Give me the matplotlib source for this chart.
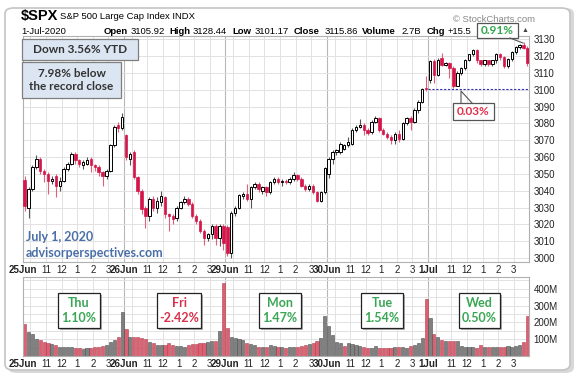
import numpy as np
import matplotlib.pyplot as plt
from matplotlib.patches import FancyBboxPatch, Rectangle

# 15-minute bars, 25 Jun - 1 Jul 2020, 26 bars per session
days = ['25Jun', '26Jun', '29Jun', '30Jun', '1Jul']
day_boxes = [('Thu', '1.10%'), ('Fri', '-2.42%'), ('Mon', '1.47%'), ('Tue', '1.54%'), ('Wed', '0.50%')]
hour_labels = ['11', '12', '1', '2', '3']

opens = [
    3046.6, 3030, 3041, 3054, 3059, 3052, 3050, 3046, 3049, 3043, 3046, 3053, 3056, 3062, 3058, 3055, 3056, 3059, 3055, 3054, 3051, 3049, 3052, 3067, 3079, 3077,
    3073.2, 3059, 3063, 3048, 3040, 3030, 3025, 3035, 3030, 3033, 3036, 3026, 3025, 3024, 3030, 3033, 3035, 3032, 3025, 3022, 3016, 3012, 3014, 3019, 3012, 3019,
    3018.6, 3003, 3027, 3030, 3037, 3038, 3035, 3042, 3044, 3040, 3042, 3039, 3045, 3047, 3045, 3046, 3045, 3047, 3049.5, 3047, 3043, 3041, 3043, 3039, 3034, 3039,
    3050.2, 3059, 3063, 3063, 3065, 3067, 3068, 3076, 3078, 3079, 3076, 3075, 3081, 3083, 3076, 3074, 3072, 3070, 3074, 3070.5, 3080.5, 3083, 3081, 3088, 3093, 3100.5,
    3105.92, 3117, 3109, 3119, 3115, 3116, 3113, 3102.5, 3110, 3113, 3118, 3121, 3123.5, 3117.5, 3115.5, 3117.5, 3115.5, 3117.5, 3121.5, 3119.5, 3114, 3118.5, 3122.5, 3125.5, 3126.5, 3125,
]
highs = [
    3049, 3042, 3055, 3061, 3060, 3053, 3051, 3049, 3050, 3048, 3054, 3057, 3063, 3063, 3059, 3058, 3060, 3060, 3056, 3055, 3052, 3053, 3068, 3079, 3081, 3086.25,
    3073.7, 3063, 3064, 3049, 3041, 3031, 3036, 3037, 3036, 3040, 3037, 3027, 3026, 3031, 3034, 3037, 3036, 3033, 3026, 3023, 3017, 3015, 3020, 3020, 3020, 3020,
    3019.5, 3028, 3031, 3038, 3039, 3044, 3043, 3045, 3045, 3043, 3043, 3046, 3048, 3048, 3047, 3047, 3048, 3051, 3050, 3048, 3044, 3044, 3044, 3040, 3040, 3053.9,
    3060, 3064, 3065, 3069, 3068, 3072, 3077, 3079, 3082.5, 3080, 3077, 3082, 3084.7, 3084, 3077, 3075, 3073, 3075, 3076, 3081, 3084, 3084.5, 3089, 3094, 3101, 3108,
    3118, 3118.5, 3119, 3122, 3116.5, 3116.5, 3114, 3111, 3113.5, 3118.5, 3121.5, 3124, 3124, 3118, 3118, 3118, 3118, 3122, 3122, 3120, 3119, 3123, 3126, 3127, 3128.44, 3126,
]
lows = [
    3028, 3024, 3040, 3053, 3050, 3045, 3038, 3044, 3036, 3040, 3045, 3052, 3055, 3056, 3054, 3053, 3055, 3051, 3052, 3049, 3043, 3047, 3051, 3066, 3075, 3076,
    3058, 3055, 3047, 3038, 3026, 3018, 3022, 3028, 3027, 3031, 3024, 3016, 3020, 3022, 3029, 3032, 3031, 3024, 3020, 3015, 3008, 3010, 3011, 3008, 3007, 3005,
    3001, 2999.7, 3025, 3029, 3035, 3034, 3030, 3041, 3039, 3038, 3037, 3038, 3044, 3044, 3043, 3044, 3044, 3046, 3046, 3042, 3040, 3040, 3038, 3033, 3033, 3038,
    3047.8, 3056, 3061, 3062, 3064, 3066, 3067, 3075, 3077, 3073, 3073, 3074, 3080, 3075, 3073, 3071, 3068, 3068, 3069, 3070, 3079, 3076, 3080, 3086, 3092, 3099,
    3104, 3104, 3108, 3114, 3114, 3107, 3101.17, 3102, 3109, 3112, 3117, 3120, 3116, 3114, 3114, 3114, 3114, 3116, 3118, 3113, 3113, 3117, 3121, 3124, 3124, 3114,
]
closes = [
    3031, 3041, 3054, 3059, 3052, 3050, 3046, 3047, 3043, 3046, 3053, 3056, 3062, 3058, 3056, 3057, 3058, 3055, 3054, 3051, 3049, 3052, 3067, 3078, 3077, 3083.76,
    3060, 3062, 3048, 3040, 3029, 3025, 3035, 3030, 3034, 3037, 3026, 3025, 3023, 3030, 3033, 3035, 3032, 3025, 3022, 3016, 3012, 3014, 3019, 3012, 3019, 3009.05,
    3003, 3027, 3029.5, 3037.5, 3038, 3035, 3042, 3044, 3041, 3042, 3039, 3045, 3047, 3045, 3046, 3045, 3047, 3049.5, 3047, 3043, 3041, 3043, 3039, 3034, 3039, 3053.24,
    3059, 3063, 3064, 3068, 3067, 3069, 3076, 3078, 3079, 3076, 3074.5, 3081, 3083, 3076, 3074, 3072, 3070, 3074, 3070.5, 3080.5, 3083, 3081, 3088, 3093, 3100.5, 3100.29,
    3117, 3109, 3118, 3115, 3116, 3113, 3102.5, 3110, 3113, 3118, 3121, 3123.5, 3117.5, 3115.5, 3117.5, 3115.5, 3117.5, 3121.5, 3119.5, 3114, 3118.5, 3122.5, 3125.5, 3126.5, 3125, 3115.86,
]
# volume in millions
volumes = [
    192, 140, 130, 100, 96, 82, 80, 72, 66, 52, 52, 54, 56, 46, 46, 44, 48, 46, 52, 56, 60, 66, 86, 96, 112, 262,
    162, 116, 114, 112, 110, 102, 82, 76, 66, 66, 66, 76, 66, 62, 60, 56, 66, 72, 72, 76, 80, 84, 92, 92, 146, 436,
    166, 116, 110, 102, 96, 76, 70, 66, 52, 52, 52, 66, 60, 56, 52, 50, 52, 52, 56, 60, 66, 70, 76, 90, 110, 240,
    176, 122, 86, 76, 62, 76, 70, 66, 62, 52, 50, 50, 60, 46, 46, 46, 50, 52, 52, 56, 50, 60, 66, 76, 106, 342,
    226, 132, 116, 96, 92, 92, 90, 90, 60, 52, 52, 52, 50, 66, 52, 52, 52, 52, 52, 56, 60, 52, 62, 66, 86, 236,
]
prev_close = 3100.29

o = np.array(opens); h = np.array(highs); l = np.array(lows); c = np.array(closes)
v = np.array(volumes) * 1e6
x = np.arange(len(c))
per_day = 26

W, H = 579, 377
plt.rcParams['font.family'] = ['Liberation Sans', 'DejaVu Sans']
fig = plt.figure(figsize=(W / 100, H / 100), dpi=100)

def rect(x0, y0, x1, y1):
    return [x0 / W, 1 - y1 / H, (x1 - x0) / W, (y1 - y0) / H]

def fx(px_):
    return px_ / W

def fy(py_):
    return 1 - py_ / H

# outer frame with shadow
fig.patches.append(FancyBboxPatch((fx(8), fy(373)), fx(566), 365 / H, boxstyle='round,pad=0,rounding_size=0.015',
                                  transform=fig.transFigure, fc='#d8d8d8', ec='none', zorder=-3))
fig.patches.append(FancyBboxPatch((fx(5), fy(370)), fx(565), 362 / H, boxstyle='round,pad=0,rounding_size=0.015',
                                  transform=fig.transFigure, fc='white', ec='#c4c4c4', lw=1.2, zorder=-2))

ax = fig.add_axes(rect(22.7, 36, 529.4, 262))
axv = fig.add_axes(rect(22.7, 277, 529.4, 356))

red = '#d4164a'
hour_pos = []
for d in range(len(days)):
    hour_pos += [d * per_day + k for k in (1.5, 5.5, 9.5, 13.5, 17.5, 21.5)]
day_pos = [d * per_day - 0.5 for d in range(len(days))]

for a in (ax, axv):
    a.set_xlim(-0.5, len(c) - 0.5)
    for p in hour_pos:
        a.axvline(p, color='#e2e2e2', lw=0.7, zorder=0)
    for p in day_pos[1:]:
        a.axvline(p, color='#b8b8b8', lw=0.8, zorder=0)
    for s in a.spines.values():
        s.set_color('#b0b0b0')
        s.set_linewidth(0.8)
    a.yaxis.tick_right()
    a.tick_params(axis='y', length=0, labelsize=7, pad=3, colors='#222')
    a.tick_params(axis='x', length=0, labelsize=7, pad=2, colors='#222')

# candles
up = c >= o
wick_col = np.where(up, '#555555', '#e0607a')
ax.vlines(x, l, h, colors=wick_col, lw=0.8, zorder=2)
body = np.maximum(np.abs(c - o), 0.5)
bottom = np.minimum(o, c)
ax.bar(x[up], body[up], bottom=bottom[up], width=0.62, facecolor='white', edgecolor='black', lw=0.7, zorder=3)
ax.bar(x[~up], body[~up], bottom=bottom[~up], width=0.62, facecolor=red, edgecolor=red, lw=0.5, zorder=3)

ax.set_ylim(2997.6, 3132)
ax.set_yticks(np.arange(3000, 3131, 10))
ax.yaxis.grid(True, color='#e2e2e2', lw=0.7)
ax.set_axisbelow(True)

# previous close line for the last session
ax.hlines(prev_close, 4 * per_day - 0.5, len(c) - 0.5, colors='#3030b0', linestyles=(0, (2, 1.5)), lw=0.8, zorder=4)

# volume bars, red when close is below prior close
prior = np.concatenate([[3050.33], c[:-1]])
vdown = c < prior
axv.bar(x[vdown], v[vdown], width=0.8, facecolor='#dc6072', edgecolor='#b04050', lw=0.4, zorder=2)
axv.bar(x[~vdown], v[~vdown], width=0.8, facecolor='#808080', edgecolor='#505050', lw=0.4, zorder=2)
axv.set_ylim(0, 470e6)
axv.set_yticks([100e6, 200e6, 300e6, 400e6])
axv.set_yticklabels(['100M', '200M', '300M', '400M'])
for yv in np.arange(50e6, 460e6, 50e6):
    axv.axhline(yv, color='#e2e2e2', lw=0.7, zorder=0)

# x labels
ticks, labels = [], []
for d, name in enumerate(days):
    ticks.append(d * per_day - 0.5)
    labels.append(name)
    for k, hl in zip((5.5, 9.5, 13.5, 17.5, 21.5), hour_labels):
        ticks.append(d * per_day + k)
        labels.append(hl)
for a in (ax, axv):
    a.set_xticks(ticks)
    a.set_xticklabels(labels)
    for t in a.get_xticklabels():
        if 'J' in t.get_text():
            t.set_fontweight('bold')

# header
fig.text(fx(21), fy(16), '$SPX', fontsize=10.5, fontweight='bold', va='center')
fig.text(fx(60), fy(16.5), 'S&P 500 Large Cap Index INDX', fontsize=6.8, va='center')
fig.text(fx(21), fy(31), '1-Jul-2020', fontsize=6.8, va='center')
header = [(104, 'Open', True), (131, '3105.92', False), (169, 'High', True), (193, '3128.44', False),
          (232, 'Low', True), (255, '3101.17', False), (294, 'Close', True), (325, '3115.86', False),
          (362, 'Volume', True), (401, '2.7B', False), (427, 'Chg', True), (448, '+15.5', False)]
for hx, txt, bold in header:
    fig.text(fx(hx), fy(31), txt, fontsize=6.8, va='center', fontweight='bold' if bold else 'normal')
fig.text(fx(522), fy(31), '\u25b2', fontsize=5, va='center', color='#444')
fig.text(fx(453), fy(19), '\u00a9 StockCharts.com', fontsize=6.8, va='center', color='#888888')

box_font = ['Lato', 'DejaVu Sans']

def fig_box(x0, y0, x1, y1, fc, ec, shadow=False):
    if shadow:
        fig.patches.append(Rectangle((fx(x0 + 2), fy(y1 + 2)), fx(x1 - x0), (y1 - y0) / H,
                                     transform=fig.transFigure, fc='#b0b0b0', ec='none', zorder=5))
    fig.patches.append(Rectangle((fx(x0), fy(y1)), fx(x1 - x0), (y1 - y0) / H,
                                 transform=fig.transFigure, fc=fc, ec=ec, lw=0.9, zorder=6))

fig_box(22, 39, 138, 60, '#dce6f2', '#7f7f7f')
fig.text(fx(80), fy(49.5), 'Down 3.56% YTD', fontsize=8.5, fontweight='bold', family=box_font,
         ha='center', va='center', color='#333333', zorder=7)
fig_box(22, 62, 121, 98, '#dce6f2', '#7f7f7f')
fig.text(fx(71.5), fy(80), '7.98% below\nthe record close', fontsize=8.5, fontweight='bold', family=box_font,
         ha='center', va='center', color='#333333', linespacing=1.25, zorder=7)

fig.text(fx(26), fy(237), 'July 1, 2020', fontsize=9, fontweight='bold', family=box_font,
         va='center', color='#4a6fa8')
fig.text(fx(26), fy(253), 'advisorperspectives.com', fontsize=9, fontweight='bold', family=box_font,
         va='center', color='#4a6fa8')

# callouts
fig_box(477, 23, 518, 38, 'white', '#555555')
fig.text(fx(497.5), fy(30.5), '0.91%', fontsize=8.5, fontweight='bold', family=box_font,
         ha='center', va='center', color='#2ea84a', zorder=7)
fig.lines.append(plt.Line2D([fx(510), fx(523)], [fy(38), fy(43)], transform=fig.transFigure, color='#555', lw=0.8, zorder=7))
fig_box(453, 103, 494, 120, 'white', '#555555')
fig.text(fx(473.5), fy(111.5), '0.03%', fontsize=8.5, fontweight='bold', family=box_font,
         ha='center', va='center', color='#e0304a', zorder=7)
fig.lines.append(plt.Line2D([fx(461), fx(461), fx(472)], [fy(103), fy(91), fy(103)], transform=fig.transFigure,
                            color='#555', lw=0.8, zorder=7))

# day change boxes in volume panel
box_x = [(58, 100), (157, 201), (259, 301), (361, 403), (459, 500)]
for (x0, x1), (dname, chg) in zip(box_x, day_boxes):
    fig_box(x0, 293, x1, 328, 'white', '#222222', shadow=True)
    col = '#d9304a' if chg.startswith('-') else '#3aa655'
    fig.text(fx((x0 + x1) / 2), fy(310.5), dname + '\n' + chg, fontsize=9, fontweight='bold', family=box_font,
             ha='center', va='center', color=col, linespacing=1.3, zorder=7)

fig.savefig('out.png', dpi=100)
